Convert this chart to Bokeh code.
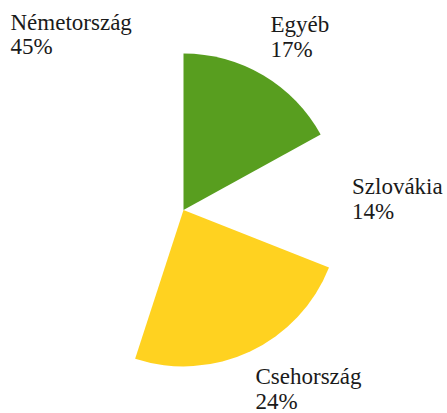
import math
from bokeh.plotting import figure
from bokeh.models import Range1d
from bokeh.core.properties import value
from bokeh.embed import file_html
from bokeh.resources import INLINE

# ---- data ----
categories = ["Egyéb", "Szlovákia", "Csehország", "Németország"]
shares = [17, 14, 24, 45]
pct_labels = ["17%", "14%", "24%", "45%"]

# ---- style / layout (screen-like coordinates, y measured from top) ----
colors = ["#589e1f", "#ffffff", "#ffd220", "#ffffff"]
alphas = [1, 0, 1, 0]
label_x = [270, 351.5, 255, 10]
label_top1 = [31.0, 193.5, 383.5, 29.5]
label_top2 = [56.5, 218.5, 408.0, 53.5]
text_shift = 7.5  # renderer places alphabetic baseline lower than requested

W, H = 447, 413
cx, cy_top, r = 183, 209.4, 156.5

p = figure(width=W, height=H, output_backend="svg", toolbar_location=None,
           x_range=Range1d(0, W), y_range=Range1d(0, H), min_border=0)
p.axis.visible = False
p.grid.visible = False
p.outline_line_color = None
p.background_fill_color = "white"
p.border_fill_color = "white"

total = sum(shares)
starts, ends = [], []
cum = 0
for v in shares:
    starts.append(math.pi / 2 - 2 * math.pi * cum / total)
    cum += v
    ends.append(math.pi / 2 - 2 * math.pi * cum / total)

p.wedge(x=cx, y=H - cy_top, radius=r, start_angle=starts, end_angle=ends,
        direction="clock", fill_color=colors, fill_alpha=alphas, line_color=None)

font = value("'Liberation Serif', serif")
p.text(x=label_x, y=[H - v + text_shift for v in label_top1], text=categories,
       text_font=font, text_font_size="23px", text_color="#1a1a1a",
       text_baseline="alphabetic", text_align="left")
p.text(x=label_x, y=[H - v + text_shift for v in label_top2], text=pct_labels,
       text_font=font, text_font_size="23px", text_color="#1a1a1a",
       text_baseline="alphabetic", text_align="left")

open("out.html", "w").write(file_html(p, INLINE))
